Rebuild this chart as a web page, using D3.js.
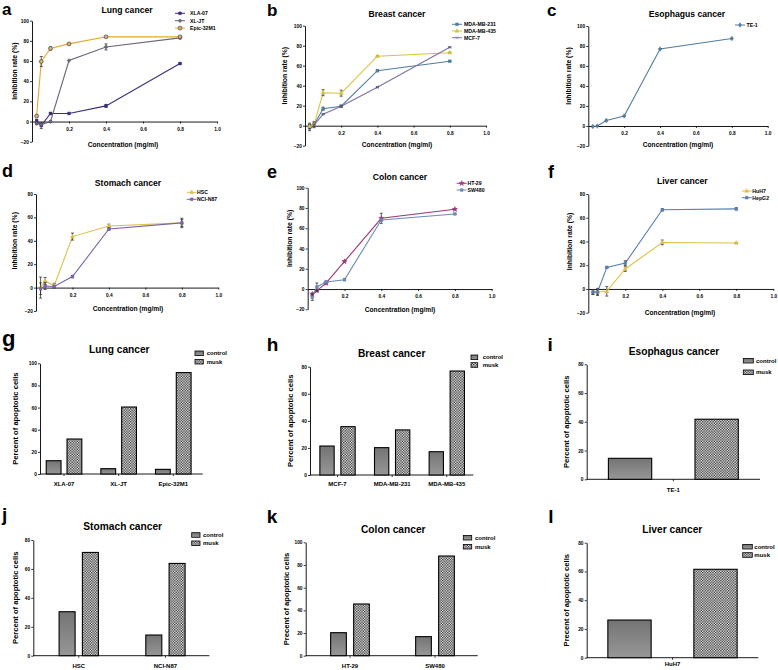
<!DOCTYPE html>
<html><head><meta charset="utf-8">
<script src="https://cdn.jsdelivr.net/npm/d3@7"></script>
<style>
body{margin:0;background:#fff}
svg{display:block}
text{font-family:Arial,"Liberation Sans",sans-serif;font-weight:bold;fill:#000}
</style>
</head><body>
<svg id="chart" width="778" height="670"></svg>
<script>
// ---------------- DATA ----------------
const conc = [0.025, 0.05, 0.1, 0.2, 0.4, 0.8];
const lineXTicks = [0.2, 0.4, 0.6, 0.8, 1.0];

// a: Lung cancer (inhibition)
const lungNames = ["XLA-07", "XL-JT", "Epic-32M1"];
const lungXLA07 = [1, -4, 8, 8, 15.5, 57.5];
const lungXLA07Err = [1, 3, 1, 0, 1.5, 0.5];
const lungXLJT = [-2, -3, 0, 60.5, 74, 83];
const lungXLJTErr = [1, 1, 1, 0, 3, 1];
const lungEpic = [5.5, 59.5, 72.5, 77, 84, 84];
const lungEpicErr = [1, 5, 1.5, 0.5, 0.5, 0.5];

// b: Breast cancer
const breastNames = ["MDA-MB-231", "MDA-MB-435", "MCF-7"];
const breast231 = [0.5, 1, 17, 19.5, 55, 64.5];
const breast231Err = [2, 2, 1.5, 1, 1, 0.5];
const breast435 = [-1, 1, 33, 32.5, 69.5, 73];
const breast435Err = [2, 3, 3, 3, 0.5, 0.5];
const breastMCF7 = [-4, 0.5, 11.5, 19.5, 38.5, 78.5];
const breastMCF7Err = [1, 1, 0.5, 0.5, 0.5, 0.5];

// c: Esophagus cancer
const esoNames = ["TE-1"];
const esoTE1 = [-0.5, 0, 5.5, 10, 77, 87.5];
const esoTE1Err = [0.5, 0.5, 0.5, 0.5, 0.5, 0.5];

// d: Stomach cancer
const stomachNames = ["HSC", "NCI-N87"];
const stomachHSC = [0, 5.7, 1.7, 43.6, 52.7, 55.3];
const stomachHSCErr = [9, 3, 2, 3, 1.5, 4];
const stomachNCI = [-1, 1.4, 0.9, 9.4, 50.1, 55.3];
const stomachNCIErr = [5, 3, 1, 1, 1, 3];

// e: Colon cancer
const colonNames = ["HT-29", "SW480"];
const colonHT29 = [-5, -1.6, 5.9, 27.2, 69.8, 78.7];
const colonHT29Err = [1, 1, 1, 0.5, 5, 0.5];
const colonSW480 = [-8.2, 2, 6.9, 9.2, 68.2, 74.1];
const colonSW480Err = [3, 4, 1, 1, 1, 0.5];

// f: Liver cancer
const liverNames = ["HuH7", "HepG2"];
const liverHuH7 = [-2.5, -2.5, -2, 16.8, 39.2, 38.7];
const liverHuH7Err = [2, 2, 4, 2, 2, 0.5];
const liverHepG2 = [-2.5, -2.5, 18.2, 21.8, 66.7, 67.5];
const liverHepG2Err = [2, 3, 0.5, 2, 1, 1];

// g-l: Percent of apoptotic cells
const groupNames = ["control", "musk"];
const gCats = ["XLA-07", "XL-JT", "Epic-32M1"];
const gControl = [12.0, 4.8, 4.2];
const gMusk = [31.6, 60.5, 91.6];
const hCats = ["MCF-7", "MDA-MB-231", "MDA-MB-435"];
const hControl = [21.4, 20.2, 17.2];
const hMusk = [35.7, 33.3, 76.8];
const iCats = ["TE-1"];
const iControl = [14.6];
const iMusk = [41.8];
const jCats = ["HSC", "NCI-N87"];
const jControl = [30.4, 14.3];
const jMusk = [71.4, 63.8];
const kCats = ["HT-29", "SW480"];
const kControl = [20.3, 16.8];
const kMusk = [45.6, 87.9];
const lCats = ["HuH7"];
const lControl = [26.2];
const lMusk = [61.5];

// ---------------- DRAWING ----------------
const svg = d3.select("#chart");
const defs = svg.append("defs");
const grad = defs.append("linearGradient").attr("id","ctrlGrad").attr("x1",0).attr("y1",0).attr("x2",0).attr("y2",1);
grad.append("stop").attr("offset","0%").attr("stop-color","#747474");
grad.append("stop").attr("offset","100%").attr("stop-color","#979797");
const pat = defs.append("pattern").attr("id","muskPat").attr("patternUnits","userSpaceOnUse")
  .attr("width",2.6).attr("height",2.6);
pat.append("rect").attr("width",2.6).attr("height",2.6).attr("fill","#fff");
pat.append("rect").attr("width",1.3).attr("height",1.3).attr("fill","#222");
pat.append("rect").attr("x",1.3).attr("y",1.3).attr("width",1.3).attr("height",1.3).attr("fill","#222");

function styleAxis(sel, fs){
  sel.selectAll("path.domain").attr("stroke","#000").attr("stroke-width",0.9);
  sel.selectAll(".tick line").attr("stroke","#000").attr("stroke-width",0.8);
  sel.selectAll(".tick text").attr("font-size",fs).attr("font-family","Arial, Liberation Sans, sans-serif").attr("font-weight","bold").attr("fill","#222");
}

function markerPath(type, size){
  const m = {circle:d3.symbolCircle, square:d3.symbolSquare, triangle:d3.symbolTriangle,
             cross:d3.symbolCross, diamond:d3.symbolDiamond, star:d3.symbolStar, times:d3.symbolTimes};
  return d3.symbol().type(m[type]).size(size)();
}

function linePanel(cfg){
  const g = svg.append("g");
  const x = d3.scaleLinear().domain([0,1]).range([cfg.xL, cfg.xR]);
  const y = d3.scaleLinear().domain([-20, cfg.yMax]).range([cfg.yBot, cfg.yTop]);
  const ya = d3.axisLeft(y).tickValues(d3.range(-20, cfg.yMax+1, 20)).tickSize(2).tickSizeOuter(0).tickPadding(1.2).tickFormat(d3.format("d"));
  styleAxis(g.append("g").attr("transform",`translate(${cfg.xL},0)`).call(ya), 4.8);
  const xa = d3.axisBottom(x).tickValues(lineXTicks).tickSize(2).tickSizeOuter(0).tickPadding(4).tickFormat(d3.format(".1f"));
  styleAxis(g.append("g").attr("transform",`translate(0,${y(0)})`).call(xa), 4.8);

  cfg.series.forEach(s => {
    const pts = conc.map((c,i)=>({x:c, v:s.values[i], e:s.err[i]}));
    g.append("path").datum(pts).attr("fill","none").attr("stroke",s.color).attr("stroke-width",1.1)
      .attr("d", d3.line().x(d=>x(d.x)).y(d=>y(d.v)));
    pts.forEach(d=>{
      if(d.e>0){
        const cx=x(d.x);
        g.append("path").attr("stroke","#222").attr("stroke-width",0.7).attr("fill","none")
          .attr("d",`M${cx},${y(d.v-d.e)}V${y(d.v+d.e)}M${cx-1.5},${y(d.v-d.e)}H${cx+1.5}M${cx-1.5},${y(d.v+d.e)}H${cx+1.5}`);
      }
      g.append("path").attr("d",markerPath(s.marker, s.msize||9))
        .attr("transform",`translate(${x(d.x)},${y(d.v)})`)
        .attr("fill",s.mfill||s.color).attr("stroke",s.mstroke||s.color).attr("stroke-width",0.6);
    });
  });
  // legend
  cfg.series.forEach((s,i)=>{
    const ly = cfg.legY + i*cfg.legStep;
    g.append("line").attr("x1",cfg.legX-5).attr("x2",cfg.legX+5).attr("y1",ly).attr("y2",ly).attr("stroke",s.color).attr("stroke-width",1);
    g.append("path").attr("d",markerPath(s.marker, s.msize||9)).attr("transform",`translate(${cfg.legX},${ly})`)
      .attr("fill",s.mfill||s.color).attr("stroke",s.mstroke||s.color).attr("stroke-width",0.6);
    g.append("text").attr("x",cfg.legTX).attr("y",ly).attr("dy","0.35em").attr("font-size",5.2).attr("fill","#222").text(s.name);
  });
  g.append("text").attr("x",cfg.titleX).attr("y",cfg.titleY).attr("text-anchor","middle").attr("font-size",8.6).text(cfg.title);
  g.append("text").attr("x",cfg.letterX).attr("y",cfg.letterY).attr("font-size",cfg.letterSize||18).text(cfg.letter);
  g.append("text").attr("x",cfg.xLabX).attr("y",cfg.xLabY).attr("text-anchor","middle").attr("font-size",6.6).text("Concentration (mg/ml)");
  const ymid = (y(0)+y(cfg.yMax))/2;
  g.append("text").attr("transform",`translate(${cfg.yLabX},${ymid}) rotate(-90)`).attr("text-anchor","middle")
    .attr("dy","0.35em").attr("font-size",6.8).text("Inhibition rate (%)");
}

function barPanel(cfg){
  const g = svg.append("g");
  const y = d3.scaleLinear().domain([0, cfg.yMax]).range([cfg.yBot, cfg.yTop]);
  const x = d3.scaleBand().domain(cfg.cats).range(cfg.band);
  const ya = d3.axisLeft(y).tickValues(d3.range(0, cfg.yMax+1, 20)).tickSize(2).tickSizeOuter(0).tickPadding(1.2).tickFormat(d3.format("d"));
  styleAxis(g.append("g").attr("transform",`translate(${cfg.xL},0)`).call(ya), 4.8);
  g.append("line").attr("x1",cfg.xL).attr("x2",cfg.xEnd).attr("y1",y(0)).attr("y2",y(0)).attr("stroke","#000").attr("stroke-width",0.9);
  cfg.cats.forEach((c,i)=>{
    const cx = x(c) + x.bandwidth()/2;
    g.append("line").attr("x1",cx).attr("x2",cx).attr("y1",y(0)).attr("y2",y(0)+2).attr("stroke","#000").attr("stroke-width",0.8);
    g.append("rect").attr("x",cx - cfg.gap/2 - cfg.barW).attr("y",y(cfg.control[i])).attr("width",cfg.barW)
      .attr("height",y(0)-y(cfg.control[i])).attr("fill","url(#ctrlGrad)").attr("stroke","#000").attr("stroke-width",1.1);
    g.append("rect").attr("x",cx + cfg.gap/2).attr("y",y(cfg.musk[i])).attr("width",cfg.barW)
      .attr("height",y(0)-y(cfg.musk[i])).attr("fill","url(#muskPat)").attr("stroke","#000").attr("stroke-width",1.1);
    g.append("text").attr("x",cx).attr("y",cfg.catY).attr("text-anchor","middle").attr("font-size",6).attr("fill","#222").text(c);
  });
  groupNames.forEach((n,i)=>{
    const ly = cfg.legY + i*cfg.legStep;
    g.append("rect").attr("x",cfg.legX).attr("y",ly-2.3).attr("width",cfg.legW).attr("height",4.6)
      .attr("fill", i===0 ? "url(#ctrlGrad)" : "url(#muskPat)").attr("stroke","#000").attr("stroke-width",0.8);
    g.append("text").attr("x",cfg.legTX).attr("y",ly).attr("dy","0.35em").attr("font-size",6).attr("fill","#222").text(n);
  });
  g.append("text").attr("x",cfg.titleX).attr("y",cfg.titleY).attr("text-anchor","middle").attr("font-size",10.2).text(cfg.title);
  g.append("text").attr("x",cfg.letterX).attr("y",cfg.letterY).attr("font-size",cfg.letterSize||19).text(cfg.letter);
  const ymid = (y(0)+y(cfg.yMax))/2;
  g.append("text").attr("transform",`translate(${cfg.yLabX},${ymid}) rotate(-90)`).attr("text-anchor","middle")
    .attr("dy","0.35em").attr("font-size",7.6).text(cfg.yLabel);
}

// ---- line panels ----
linePanel({letter:"a", letterX:2, letterY:14.5, letterSize:17, title:"Lung cancer", titleX:127, titleY:12.5,
  xL:32, xR:217, yMax:100, yBot:141.7, yTop:20.7, xLabX:123, xLabY:147, yLabX:15,
  legX:180, legTX:190, legY:13.3, legStep:7.4,
  series:[
    {name:lungNames[0], values:lungXLA07, err:lungXLA07Err, color:"#3d2a7e", marker:"square", msize:7},
    {name:lungNames[1], values:lungXLJT, err:lungXLJTErr, color:"#6c6678", marker:"cross", msize:6},
    {name:lungNames[2], values:lungEpic, err:lungEpicErr, color:"#e6a634", marker:"circle", msize:12, mfill:"#d8b070", mstroke:"#333"}
  ]});
linePanel({letter:"b", letterX:267, letterY:15.5, letterSize:17, title:"Breast cancer", titleX:397, titleY:16.5,
  xL:305, xR:486, yMax:100, yBot:145.7, yTop:25.7, xLabX:397, xLabY:147.3, yLabX:285,
  legX:457, legTX:464, legY:24.3, legStep:6.7,
  series:[
    {name:breastNames[0], values:breast231, err:breast231Err, color:"#4f7ea6", marker:"square", msize:7},
    {name:breastNames[1], values:breast435, err:breast435Err, color:"#d9c43e", marker:"triangle", msize:7},
    {name:breastNames[2], values:breastMCF7, err:breastMCF7Err, color:"#8070a8", marker:"times", msize:7}
  ]});
linePanel({letter:"c", letterX:547, letterY:15.5, letterSize:17, title:"Esophagus cancer", titleX:687, titleY:17,
  xL:588.3, xR:767.7, yMax:100, yBot:146, yTop:26, xLabX:678, xLabY:147.3, yLabX:569,
  legX:740, legTX:746.5, legY:25, legStep:6.7,
  series:[
    {name:esoNames[0], values:esoTE1, err:esoTE1Err, color:"#547d9e", marker:"diamond", msize:6}
  ]});
linePanel({letter:"d", letterX:2, letterY:176.7, title:"Stomach cancer", titleX:128, titleY:185.7,
  xL:36, xR:218.3, yMax:80, yBot:311, yTop:194, xLabX:128, xLabY:310.5, yLabX:15,
  legX:191.7, legTX:197, legY:192.3, legStep:7,
  series:[
    {name:stomachNames[0], values:stomachHSC, err:stomachHSCErr, color:"#dcc050", marker:"triangle", msize:7},
    {name:stomachNames[1], values:stomachNCI, err:stomachNCIErr, color:"#7b63a8", marker:"square", msize:7}
  ]});
linePanel({letter:"e", letterX:267, letterY:177.7, title:"Colon cancer", titleX:400, titleY:180,
  xL:307.7, xR:491.7, yMax:100, yBot:309.3, yTop:187.7, xLabX:400, xLabY:311.7, yLabX:289.3,
  legX:461.7, legTX:467.5, legY:183.3, legStep:6.7,
  series:[
    {name:colonNames[0], values:colonHT29, err:colonHT29Err, color:"#a03578", marker:"star", msize:8},
    {name:colonNames[1], values:colonSW480, err:colonSW480Err, color:"#6a8ab8", marker:"square", msize:7}
  ]});
linePanel({letter:"f", letterX:548, letterY:177.7, title:"Liver cancer", titleX:682.3, titleY:184.3,
  xL:588.3, xR:773.3, yMax:80, yBot:312.7, yTop:194, xLabX:680, xLabY:314.5, yLabX:570,
  legX:746.7, legTX:752.3, legY:191, legStep:6.7,
  series:[
    {name:liverNames[0], values:liverHuH7, err:liverHuH7Err, color:"#e0c048", marker:"triangle", msize:7},
    {name:liverNames[1], values:liverHepG2, err:liverHepG2Err, color:"#5a7eb0", marker:"square", msize:7}
  ]});

// ---- bar panels ----
const pctLabel = "Percent of apoptotic cells";
const prcLabel = "Precent of apoptotic cells";
barPanel({letter:"g", letterX:2, letterY:346, letterSize:22, title:"Lung cancer", titleX:119.3, titleY:353.3,
  cats:gCats, control:gControl, musk:gMusk, xL:40, xEnd:202.7, band:[36.7,200.6], barW:14.8, gap:6,
  yMax:100, yBot:474, yTop:363.3, catY:485.7, yLabX:15, yLabel:pctLabel,
  legX:195, legW:8.3, legTX:206.7, legY:353.3, legStep:8.4});
barPanel({letter:"h", letterX:266.7, letterY:350.7, title:"Breast cancer", titleX:391.7, titleY:356.7,
  cats:hCats, control:hControl, musk:hMusk, xL:310, xEnd:473.3, band:[310.2,474.1], barW:14.3, gap:6.7,
  yMax:80, yBot:475, yTop:366.7, catY:485.7, yLabX:290, yLabel:pctLabel,
  legX:471, legW:6.7, legTX:482.7, legY:357.3, legStep:7.7});
barPanel({letter:"i", letterX:547.5, letterY:350.7, title:"Esophagus cancer", titleX:674, titleY:355,
  cats:iCats, control:iControl, musk:iMusk, xL:586.7, xEnd:760, band:[586.7,760], barW:43.3, gap:43.3,
  yMax:80, yBot:479.3, yTop:364.3, catY:492, yLabX:566.7, yLabel:pctLabel,
  legX:743.3, legW:10, legTX:756, legY:360.7, legStep:11.6});
barPanel({letter:"j", letterX:2, letterY:521, title:"Stomach cancer", titleX:122.7, titleY:530,
  cats:jCats, control:jControl, musk:jMusk, xL:33.3, xEnd:209.3, band:[35.4,208.8], barW:16, gap:7.3,
  yMax:80, yBot:655.7, yTop:540, catY:668.3, yLabX:15, yLabel:pctLabel,
  legX:191.7, legW:8.3, legTX:203, legY:535, legStep:8.3});
barPanel({letter:"k", letterX:266.7, letterY:523.3, title:"Colon cancer", titleX:393.3, titleY:532.7,
  cats:kCats, control:kControl, musk:kMusk, xL:305.7, xEnd:477.7, band:[307.5,477.5], barW:15.7, gap:7.3,
  yMax:100, yBot:655.7, yTop:542.3, catY:668.3, yLabX:286.7, yLabel:prcLabel,
  legX:463.3, legW:8.4, legTX:475, legY:537.7, legStep:9});
barPanel({letter:"l", letterX:548.3, letterY:522.7, title:"Liver cancer", titleX:672.3, titleY:533.3,
  cats:lCats, control:lControl, musk:lMusk, xL:586.7, xEnd:758.3, band:[586.7,758.3], barW:43.3, gap:42.7,
  yMax:80, yBot:657.7, yTop:542.7, catY:666, yLabX:566.7, yLabel:prcLabel,
  legX:742.7, legW:9.6, legTX:754.3, legY:546.7, legStep:8.3});
</script>
</body></html>
